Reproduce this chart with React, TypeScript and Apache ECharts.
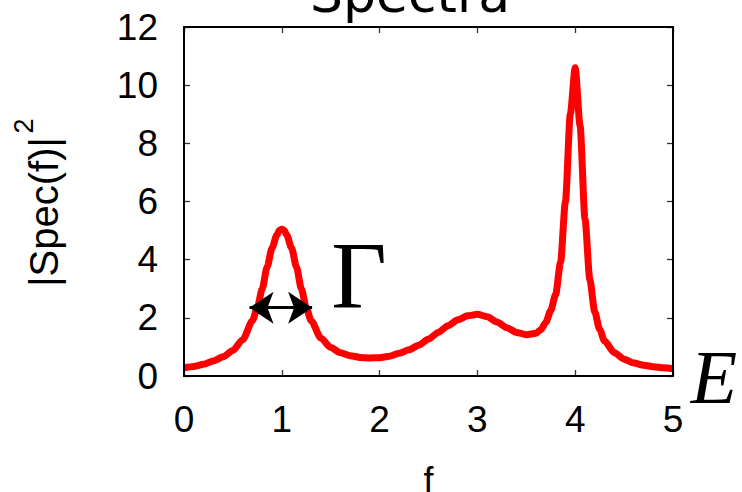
import React, { useEffect, useRef } from "react";
import * as echarts from "echarts";

const freq = [
  0, 0.1, 0.2, 0.3, 0.4, 0.5, 0.6, 0.7, 0.75, 0.8, 0.85, 0.9, 0.95, 0.975, 1.0,
  1.025, 1.05, 1.1, 1.15, 1.2, 1.25, 1.3, 1.4, 1.5, 1.6, 1.7, 1.8, 1.9, 2.0,
  2.1, 2.2, 2.3, 2.4, 2.5, 2.6, 2.7, 2.8, 2.9, 3.0, 3.1, 3.2, 3.3, 3.4, 3.5,
  3.6, 3.65, 3.7, 3.75, 3.8, 3.85, 3.9, 3.95, 4.0, 4.05, 4.1, 4.15, 4.2, 4.25,
  4.3, 4.4, 4.5, 4.6, 4.7, 4.8, 4.9, 5.0,
];
const power = [
  0.28, 0.33, 0.4, 0.52, 0.66, 0.88, 1.25, 1.9, 2.35, 3.0, 3.75, 4.4, 4.85, 5.0,
  5.05, 5.0, 4.85, 4.4, 3.75, 3.0, 2.35, 1.9, 1.3, 0.98, 0.8, 0.7, 0.64, 0.62,
  0.63, 0.68, 0.78, 0.9, 1.06, 1.27, 1.5, 1.73, 1.93, 2.07, 2.12, 2.04, 1.86,
  1.66, 1.5, 1.42, 1.47, 1.6, 1.85, 2.25, 2.8, 3.9, 6.0, 9.0, 10.6, 8.6, 5.4,
  3.3, 2.2, 1.6, 1.2, 0.8, 0.58, 0.45, 0.37, 0.32, 0.28, 0.25,
];
const xTicks = { min: 0, max: 5, interval: 1 };
const yTicks = { min: 0, max: 12, interval: 2 };
const widthLeft = 0.67;
const widthRight = 1.31;
const widthLevel = 2.35;

const tickFont = "'Liberation Sans', Arial, Helvetica, sans-serif";
const serif = "'Liberation Serif', 'Times New Roman', serif";

export default function App() {
  const ref = useRef<HTMLDivElement>(null);
  useEffect(() => {
    if (!ref.current) return;
    const chart = echarts.init(ref.current, null, { renderer: "svg" });
    const axisLine = { show: true, onZero: false, lineStyle: { color: "#000", width: 2 } };
    const axisTick = { show: true, inside: true, length: 6, lineStyle: { color: "#333", width: 1.3 } };
    chart.setOption({
      animation: false,
      backgroundColor: "#fff",
      grid: {
        left: 184,
        right: 69,
        top: 27,
        bottom: 116,
        outerBoundsMode: "none",
        containLabel: false,
        show: false,
      },
      xAxis: [
        {
          type: "value",
          ...xTicks,
          position: "bottom",
          axisLine,
          axisTick,
          splitLine: { show: false },
          axisLabel: { color: "#000", fontSize: 37, fontFamily: tickFont, margin: 25 },
          name: "f",
          nameLocation: "middle",
          nameGap: 86,
          nameTextStyle: { color: "#000", fontSize: 36, fontFamily: tickFont },
        },
        {
          type: "value",
          ...xTicks,
          position: "top",
          axisLine,
          axisTick,
          splitLine: { show: false },
          axisLabel: { show: false },
        },
      ],
      yAxis: [
        {
          type: "value",
          ...yTicks,
          position: "left",
          axisLine,
          axisTick,
          splitLine: { show: false },
          axisLabel: { color: "#000", fontSize: 37, fontFamily: tickFont, margin: 26 },
        },
        {
          type: "value",
          ...yTicks,
          position: "right",
          axisLine,
          axisTick,
          splitLine: { show: false },
          axisLabel: { show: false },
        },
      ],
      series: [
        {
          type: "line",
          data: freq.map((f, i) => [f, power[i]]),
          showSymbol: false,
          symbol: "none",
          smooth: 0.25,
          smoothMonotone: "x",
          lineStyle: { color: "#ff0000", width: 7, join: "miter", miterLimit: 4 },
          markLine: {
            silent: true,
            symbol: ["arrow", "arrow"],
            symbolSize: [24, 24],
            label: { show: false },
            lineStyle: { color: "#000", width: 3, type: "solid" },
            data: [[{ coord: [widthLeft, widthLevel] }, { coord: [widthRight, widthLevel] }]],
          },
        },
      ],
      graphic: [
        {
          type: "text",
          x: 410,
          y: -32,
          style: {
            text: "Spectra",
            fontSize: 52,
            fontFamily: "'DejaVu Sans', sans-serif",
            fill: "#000",
            align: "center",
            verticalAlign: "top",
          },
        },
        {
          type: "text",
          x: 44,
          y: 212,
          rotation: Math.PI / 2,
          style: {
            text: "|Spec(f)|",
            fontSize: 40,
            fontFamily: tickFont,
            fill: "#000",
            align: "center",
            verticalAlign: "middle",
          },
        },
        {
          type: "text",
          x: 24,
          y: 126,
          rotation: Math.PI / 2,
          style: {
            text: "2",
            fontSize: 27,
            fontFamily: tickFont,
            fill: "#000",
            align: "center",
            verticalAlign: "middle",
          },
        },
        {
          type: "text",
          x: 359,
          y: 275,
          style: {
            text: "Γ",
            fontSize: 96,
            fontFamily: serif,
            fill: "#000",
            align: "center",
            verticalAlign: "middle",
          },
        },
        {
          type: "text",
          x: 714,
          y: 377,
          style: {
            text: "E",
            fontSize: 76,
            fontStyle: "italic",
            fontFamily: serif,
            fill: "#000",
            align: "center",
            verticalAlign: "middle",
          },
        },
      ],
    });
    const p0 = chart.convertToPixel({ gridIndex: 0 }, [xTicks.min, yTicks.min]) as number[];
    const p1 = chart.convertToPixel({ gridIndex: 0 }, [xTicks.max, yTicks.max]) as number[];
    if (p0 && p1) {
      chart.setOption({
        graphic: [
          {
            id: "frame",
            type: "rect",
            z: 100,
            silent: true,
            shape: {
              x: Math.min(p0[0], p1[0]),
              y: Math.min(p0[1], p1[1]),
              width: Math.abs(p1[0] - p0[0]),
              height: Math.abs(p1[1] - p0[1]),
            },
            style: { fill: "none", stroke: "#000", lineWidth: 2 },
          },
        ],
      });
    }
    return () => chart.dispose();
  }, []);
  return <div ref={ref} style={{ width: 742, height: 492, position: "absolute", left: 0, top: 0 }} />;
}
